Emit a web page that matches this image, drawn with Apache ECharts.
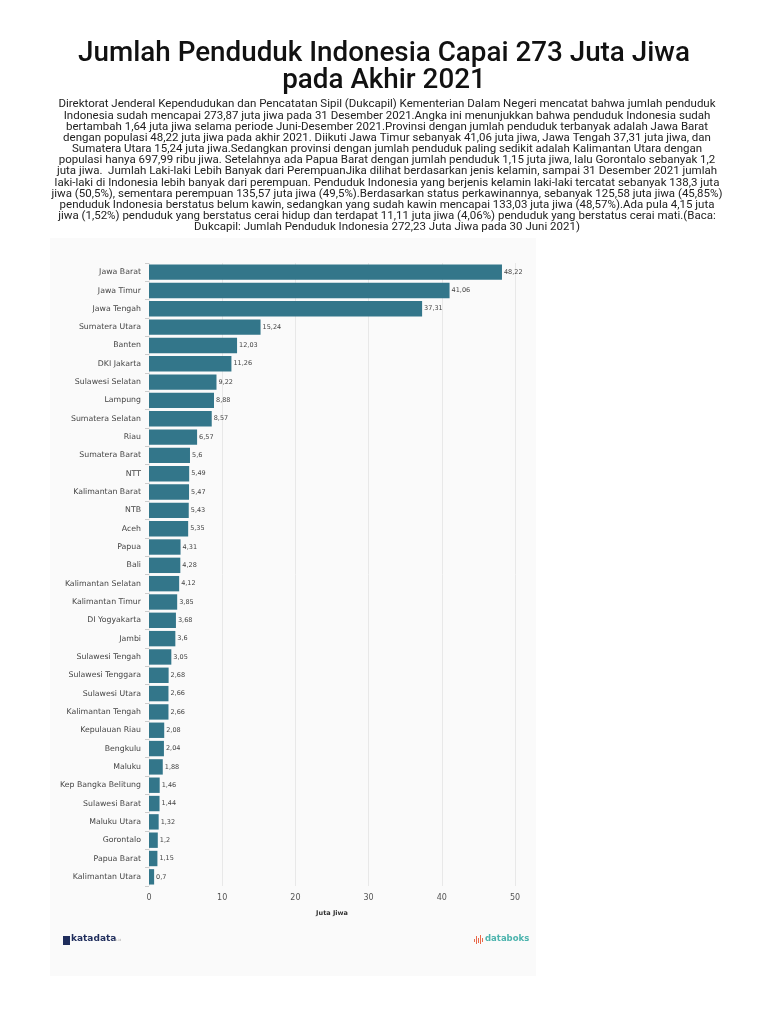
<!DOCTYPE html>
<html>
<head>
<meta charset="utf-8">
<script src="https://cdn.jsdelivr.net/npm/echarts@6/dist/echarts.min.js"></script>
<style>
html,body{margin:0;padding:0;background:#fff;}
#chart{width:768px;height:1024px;}
</style>
</head>
<body>
<div id="chart"></div>
<script>
const titleLines = ["Jumlah Penduduk Indonesia Capai 273 Juta Jiwa", "pada Akhir 2021"];
const descLines = [
"Direktorat Jenderal Kependudukan dan Pencatatan Sipil (Dukcapil) Kementerian Dalam Negeri mencatat bahwa jumlah penduduk",
"Indonesia sudah mencapai 273,87 juta jiwa pada 31 Desember 2021.Angka ini menunjukkan bahwa penduduk Indonesia sudah",
"bertambah 1,64 juta jiwa selama periode Juni-Desember 2021.Provinsi dengan jumlah penduduk terbanyak adalah Jawa Barat",
"dengan populasi 48,22 juta jiwa pada akhir 2021. Diikuti Jawa Timur sebanyak 41,06 juta jiwa, Jawa Tengah 37,31 juta jiwa, dan",
"Sumatera Utara 15,24 juta jiwa.Sedangkan provinsi dengan jumlah penduduk paling sedikit adalah Kalimantan Utara dengan",
"populasi hanya 697,99 ribu jiwa. Setelahnya ada Papua Barat dengan jumlah penduduk 1,15 juta jiwa, lalu Gorontalo sebanyak 1,2",
"juta jiwa.  Jumlah Laki-laki Lebih Banyak dari PerempuanJika dilihat berdasarkan jenis kelamin, sampai 31 Desember 2021 jumlah",
"laki-laki di Indonesia lebih banyak dari perempuan. Penduduk Indonesia yang berjenis kelamin laki-laki tercatat sebanyak 138,3 juta",
"jiwa (50,5%), sementara perempuan 135,57 juta jiwa (49,5%).Berdasarkan status perkawinannya, sebanyak 125,58 juta jiwa (45,85%)",
"penduduk Indonesia berstatus belum kawin, sedangkan yang sudah kawin mencapai 133,03 juta jiwa (48,57%).Ada pula 4,15 juta",
"jiwa (1,52%) penduduk yang berstatus cerai hidup dan terdapat 11,11 juta jiwa (4,06%) penduduk yang berstatus cerai mati.(Baca:",
"Dukcapil: Jumlah Penduduk Indonesia 272,23 Juta Jiwa pada 30 Juni 2021)"
];
const provinces = ["Jawa Barat","Jawa Timur","Jawa Tengah","Sumatera Utara","Banten","DKI Jakarta","Sulawesi Selatan","Lampung","Sumatera Selatan","Riau","Sumatera Barat","NTT","Kalimantan Barat","NTB","Aceh","Papua","Bali","Kalimantan Selatan","Kalimantan Timur","DI Yogyakarta","Jambi","Sulawesi Tengah","Sulawesi Tenggara","Sulawesi Utara","Kalimantan Tengah","Kepulauan Riau","Bengkulu","Maluku","Kep Bangka Belitung","Sulawesi Barat","Maluku Utara","Gorontalo","Papua Barat","Kalimantan Utara"];
const population = [48.22,41.06,37.31,15.24,12.03,11.26,9.22,8.88,8.57,6.57,5.6,5.49,5.47,5.43,5.35,4.31,4.28,4.12,3.85,3.68,3.6,3.05,2.68,2.66,2.66,2.08,2.04,1.88,1.46,1.44,1.32,1.2,1.15,0.7];
const axisName = "Juta Jiwa";

const chart = echarts.init(document.getElementById('chart'), null, {renderer:'canvas'});
const iconBars = [[474,939,3],[476,936,8],[478,938,5],[480,935,9],[482,938,4]].map(b=>({
  type:'rect', shape:{x:b[0], y:b[1], width:1, height:b[2]}, style:{fill:'#e8694a'}
}));
const option = {
  backgroundColor:'#ffffff',
  animation:false,
  graphic:[
    {type:'rect', z:-10, shape:{x:50,y:238,width:486,height:738}, style:{fill:'#fafafa'}},
    {type:'text', x:384, y:41, style:{text:titleLines.join('\n'), font:'500 27.8px Roboto', fill:'#111', align:'center', textAlign:'center', lineHeight:27}},
    {type:'text', x:387, y:99, style:{text:descLines.join('\n'), font:'11.5px Roboto', fill:'#222', align:'center', textAlign:'center', lineHeight:11.15}},
    {type:'rect', shape:{x:63,y:936,width:7,height:9}, style:{fill:'#1f2d5c'}},
    {type:'text', x:71, y:934, style:{text:'katadata', font:'bold 9px "DejaVu Sans"', fill:'#1f2d5c'}},
    {type:'text', x:113, y:939, style:{text:'.co.id', font:'3px "DejaVu Sans"', fill:'#999'}}
  ].concat(iconBars).concat([
    {type:'text', x:485, y:934, style:{text:'databoks', font:'bold 8.5px "DejaVu Sans"', fill:'#4bb3ad'}}
  ]),
  grid:{left:149, right:253, top:263, bottom:138, containLabel:false},
  xAxis:{
    type:'value', min:0, max:50, interval:10,
    name:axisName, nameLocation:'middle', nameGap:24,
    nameTextStyle:{fontFamily:'DejaVu Sans', fontSize:6.5, fontWeight:'bold', color:'#333'},
    axisLine:{show:false}, axisTick:{show:false},
    axisLabel:{fontFamily:'DejaVu Sans', fontSize:8, color:'#555', margin:8},
    splitLine:{show:true, lineStyle:{color:'#e8e8e8', width:1}}
  },
  yAxis:{
    type:'category', data:provinces, inverse:true,
    axisLine:{show:false},
    axisTick:{show:true, length:4, lineStyle:{color:'#ccc'}},
    axisLabel:{fontFamily:'DejaVu Sans', fontSize:7.8, color:'#444', margin:8, interval:0}
  },
  series:[{
    type:'bar', data:population, barWidth:'84%',
    itemStyle:{color:'#33768a'},
    label:{show:true, position:'right', distance:2, fontFamily:'DejaVu Sans', fontSize:6.5, color:'#444',
      formatter:p=>String(p.value).replace('.', ',')}
  }]
};
chart.setOption(option);
</script>
</body>
</html>
